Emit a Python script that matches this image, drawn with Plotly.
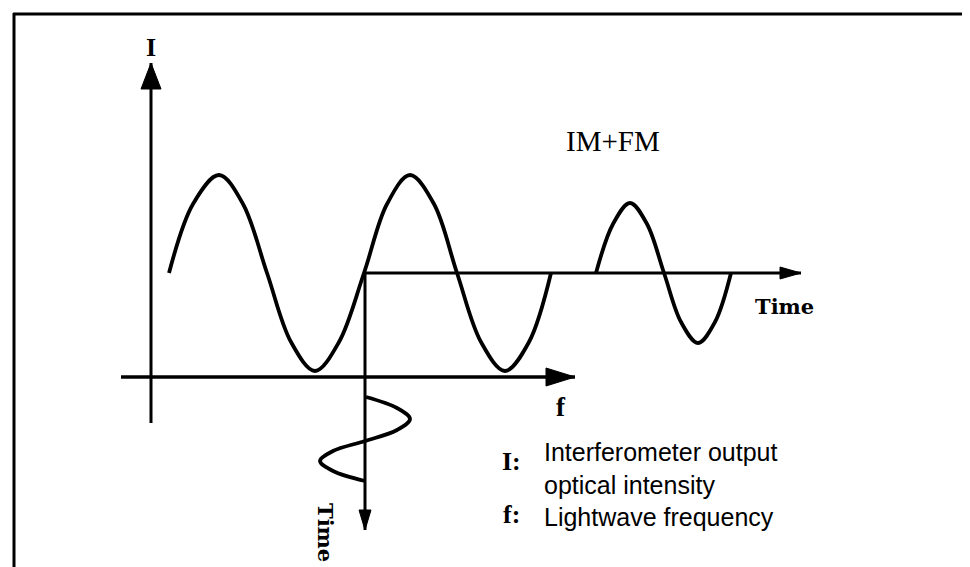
import plotly.graph_objects as go

# ---- values (diagram units = pixels of the 970x567 reference) ----
# Main interferometer output wave I(f): quarter/eighth-period key points
main_wave_x = [161, 185, 211, 235, 259, 283, 307, 331, 356, 379, 402, 426, 449, 473, 497, 521, 543]
main_wave_y = [265, 196, 167, 196, 265, 334, 363, 334, 265, 196, 167, 196, 265, 334, 363, 334, 265]

# IM+FM output wave against time
imfm_wave_x = [588, 605, 622, 639, 656, 673, 690, 707, 723]
imfm_wave_y = [265, 216, 195, 216, 265, 314, 335, 314, 265]

# Frequency modulation wave (drawn along the downward time axis)
fm_wave_t = [389, 400, 411, 422, 433, 443, 453, 463, 473]
fm_wave_f = [358, 389, 402, 389, 357, 325, 312, 325, 357]

# Axes (start, end) - the end carries the arrow head
i_axis_x, i_axis_y = [143, 143], [415, 55]
f_axis_x, f_axis_y = [113, 567], [369, 369]
time_axis_x, time_axis_y = [357, 793], [265, 265]
time_down_x, time_down_y = [357, 357], [265, 522]

# Text
label_I = "I"
label_f = "f"
label_time = "Time"
label_imfm = "IM+FM"
legend_keys = ["I:", "f:"]
legend_lines = ["Interferometer output", "optical intensity", "Lightwave frequency"]

W, H = 970, 567
BLACK = "#000000"

fig = go.Figure()


def line(xs, ys, width):
    fig.add_trace(go.Scatter(x=xs, y=ys, mode="lines", hoverinfo="skip",
                             line=dict(color=BLACK, width=width)))


def arrow(xs, ys, width, head_len, head_half):
    line(xs, ys, width)
    x0, y0, x1, y1 = xs[0], ys[0], xs[1], ys[1]
    dx, dy = x1 - x0, y1 - y0
    n = (dx * dx + dy * dy) ** 0.5
    ux, uy = dx / n, dy / n
    bx, by = x1 - ux * head_len, y1 - uy * head_len
    px, py = -uy, ux
    fig.add_trace(go.Scatter(
        x=[x1, bx + px * head_half, bx - px * head_half, x1],
        y=[y1, by + py * head_half, by - py * head_half, y1],
        mode="lines", fill="toself", fillcolor=BLACK, hoverinfo="skip",
        line=dict(color=BLACK, width=1)))


# axes with arrow heads
arrow(i_axis_x, i_axis_y, 3, 26, 10)
arrow(f_axis_x, f_axis_y, 3.5, 29, 9)
arrow(time_axis_x, time_axis_y, 3, 21, 6)
arrow(time_down_x, time_down_y, 3, 20, 6)

# waves
for xs, ys in [(main_wave_x, main_wave_y), (imfm_wave_x, imfm_wave_y), (fm_wave_f, fm_wave_t)]:
    fig.add_trace(go.Scatter(x=xs, y=ys, mode="lines", hoverinfo="skip",
                             line=dict(color=BLACK, width=3.8, shape="spline", smoothing=1.0)))

serif_b = dict(family="Liberation Serif, Times New Roman, serif", color=BLACK)
wide_serif_b = dict(family="DejaVu Serif, serif", color=BLACK)
sans = dict(family="Liberation Sans, Arial, sans-serif", color=BLACK)

ann = []
ann.append(dict(x=143, y=39, text="<b>%s</b>" % label_I, font=dict(size=26, **serif_b)))
ann.append(dict(x=553, y=399, text="<b>%s</b>" % label_f, font=dict(size=27, **serif_b)))
ann.append(dict(x=776, y=298, text="<b>%s</b>" % label_time, font=dict(size=21, **wide_serif_b)))
ann.append(dict(x=318, y=524, text="<b>%s</b>" % label_time, textangle=90,
                font=dict(size=21, **wide_serif_b)))
ann.append(dict(x=605, y=133, text=label_imfm, font=dict(size=29, **serif_b)))
ann.append(dict(x=503, y=453, text="<b>%s</b>" % legend_keys[0], font=dict(size=26, **serif_b)))
ann.append(dict(x=503, y=506, text="<b>%s</b>" % legend_keys[1], font=dict(size=26, **serif_b)))
ann.append(dict(x=534, y=460, text="<br>".join(legend_lines[:2]), xanchor="left", align="left",
                font=dict(size=25, **sans)))
ann.append(dict(x=534, y=509, text=legend_lines[2], xanchor="left", font=dict(size=25, **sans)))
for a in ann:
    a.setdefault("xanchor", "center")
    a.update(xref="x", yref="y", showarrow=False, yanchor="middle")

fig.update_layout(
    width=W, height=H,
    margin=dict(l=0, r=0, t=0, b=0),
    paper_bgcolor="white", plot_bgcolor="white",
    showlegend=False,
    xaxis=dict(range=[0, W], visible=False, fixedrange=True),
    yaxis=dict(range=[H, 0], visible=False, fixedrange=True),
    annotations=ann,
    shapes=[
        dict(type="line", xref="x", yref="y", x0=5, y0=6, x1=W, y1=6,
             line=dict(color=BLACK, width=3)),
        dict(type="line", xref="x", yref="y", x0=6, y0=5, x1=6, y1=H,
             line=dict(color=BLACK, width=3)),
    ],
)

fig.write_html("out.html", config={"displayModeBar": False})
